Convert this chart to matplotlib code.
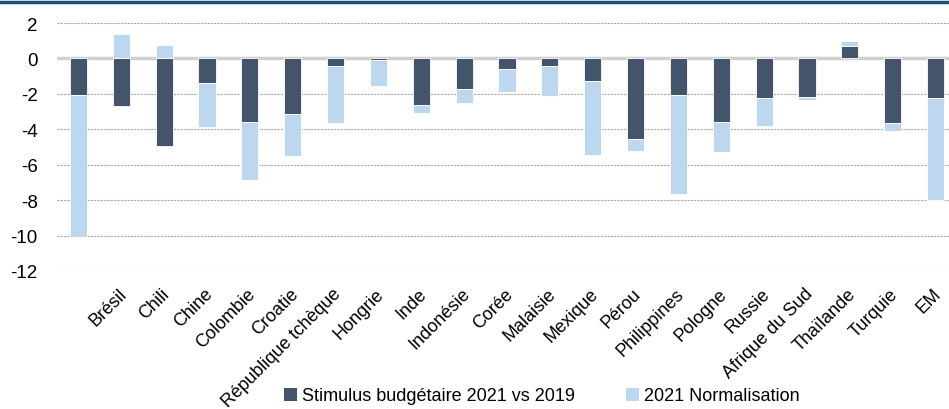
import matplotlib
matplotlib.use("Agg")
import matplotlib.pyplot as plt
import numpy as np
from matplotlib.patches import Patch
from matplotlib.lines import Line2D
import matplotlib.transforms as mtransforms

plt.rcParams['font.family'] = ['Liberation Sans', 'DejaVu Sans']

categories = ["", "Brésil", "Chili", "Chine", "Colombie", "Croatie", "République tchèque",
              "Hongrie", "Inde", "Indonésie", "Corée", "Malaisie", "Mexique", "Pérou",
              "Philippines", "Pologne", "Russie", "Afrique du Sud", "Thaïlande", "Turquie", "EM"]
stimulus = [-2.04, -2.70, -4.92, -1.41, -3.58, -3.11, -0.40, -0.11, -2.62, -1.72, -0.62,
            -0.43, -1.30, -4.54, -2.08, -3.58, -2.26, -2.17, 0.68, -3.62, -2.21]
normalisation = [-8.06, 1.38, 0.77, -2.44, -3.27, -2.39, -3.22, -1.44, -0.45, -0.79, -1.30,
                 -1.68, -4.17, -0.70, -5.56, -1.70, -1.57, -0.19, 0.32, -0.47, -5.79]
series_names = ["Stimulus budgétaire 2021 vs 2019", "2021 Normalisation"]
yticks = [2, 0, -2, -4, -6, -8, -10, -12]

c_dark = "#44546a"
c_light = "#bdd7ee"

fig = plt.figure(figsize=(9.49, 4.10), dpi=100)
ax = fig.add_axes([57/949, 138/410, 900/949, 248/410])

x = np.arange(len(categories))
pos_base = np.zeros(len(x))
neg_base = np.zeros(len(x))
for vals, col in [(stimulus, c_dark), (normalisation, c_light)]:
    vals = np.array(vals)
    bottoms = np.where(vals >= 0, pos_base, neg_base)
    ax.bar(x, vals, bottom=bottoms, width=0.4, color=col, edgecolor="white",
           linewidth=0.6, zorder=3)
    pos_base = pos_base + np.where(vals >= 0, vals, 0)
    neg_base = neg_base + np.where(vals < 0, vals, 0)

ax.set_xlim(-0.5, len(categories) - 0.5)
ax.set_ylim(-12, 2)
ax.set_yticks(yticks)
ax.set_yticklabels([str(t) for t in yticks], fontsize=13.5)
for t in yticks:
    if t != 0:
        ax.axhline(t, color="#a6a6a6", lw=0.8, ls=(0, (2, 1)), zorder=1)
ax.axhline(0, color="#d0d0d0", lw=2.5, zorder=2)
for s in ax.spines.values():
    s.set_visible(False)
ax.tick_params(axis="both", length=0)
ax.tick_params(axis="y", pad=14)

ax.set_xticks(x)
ax.set_xticklabels(categories, rotation=45, ha="right", va="top",
                   rotation_mode="anchor", fontsize=13)
offset = mtransforms.ScaledTranslation(-3/100, -9/100, fig.dpi_scale_trans)
for lab in ax.get_xticklabels():
    lab.set_transform(lab.get_transform() + offset)

# top decorative line
fig.add_artist(Line2D([0, 1], [1 - 3/410, 1 - 3/410], color="#1f4e79", lw=2.5,
                      transform=fig.transFigure))

handles = [Patch(facecolor=c_dark, edgecolor="none"), Patch(facecolor=c_light, edgecolor="none")]
fig.legend(handles, series_names, loc="center", bbox_to_anchor=(542/949, 13/410),
           ncol=2, frameon=False, fontsize=13, handlelength=0.7, handleheight=0.7,
           handletextpad=0.3, columnspacing=2.8, borderpad=0, borderaxespad=0)

fig.savefig("out.png", dpi=100)
